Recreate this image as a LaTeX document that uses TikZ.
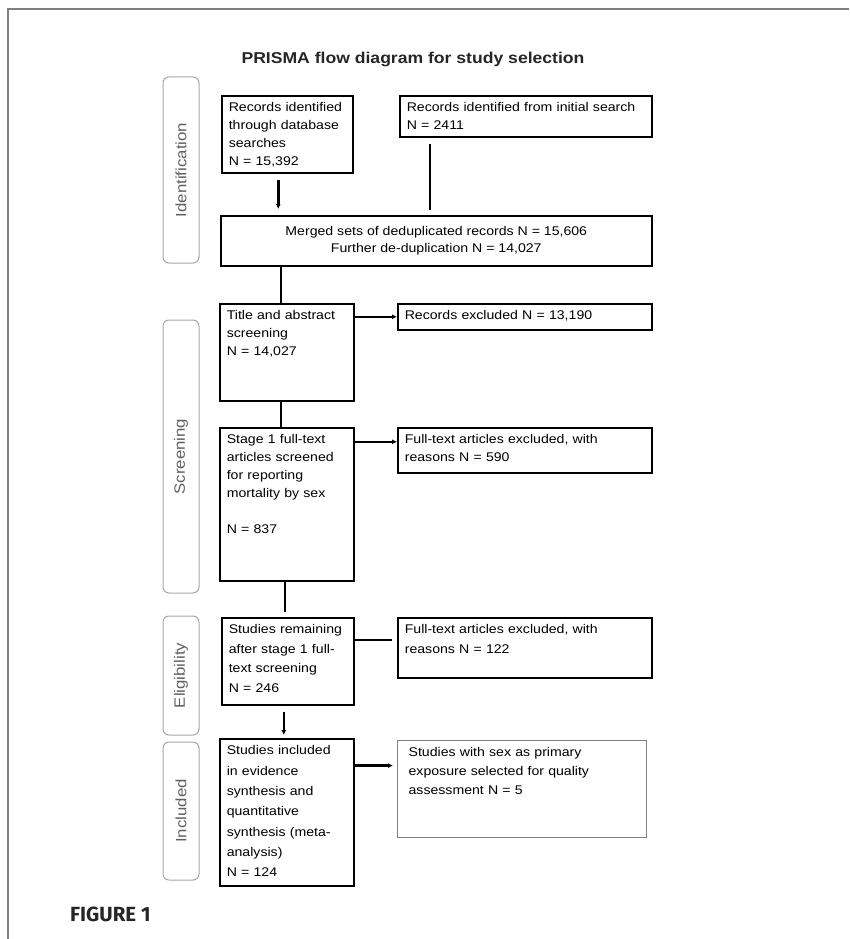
\documentclass[tikz,border=0pt]{standalone}
\usepackage{fontspec}
\setmainfont{Liberation Sans}[FakeStretch=1.12]
\newfontfamily\figfont{Fira Sans}
\usetikzlibrary{arrows.meta}

\begin{document}
\begin{tikzpicture}[x=1pt, y=-1pt,
    >={Latex[length=5pt,width=5pt]},
    txt/.style={font=\fontsize{12.6}{18}\selectfont},
    box/.style={draw, line width=1.6pt, anchor=north west, inner xsep=7pt, inner ysep=4pt, txt},
    lbox/.style={box, align=left, text height=12pt},
    phase/.style={draw=gray!70, line width=1pt, rounded corners=6pt, rotate=90, minimum height=36pt,
      font=\fontsize{15}{18}\selectfont, text=gray!75!black},
    link/.style={line width=2.6pt}]
  \useasboundingbox (0,0) rectangle (849,939);
  % --- page frame ---
  \draw[gray, line width=2pt] (8,939) -- (8,9) -- (849,9);
  \node[font=\bfseries\fontsize{15.7}{19}\selectfont, anchor=base, text=black!85] (title) at (413,64) {PRISMA flow diagram for study selection};

  % --- Identification ---
  \node[phase, minimum width=186pt] (pid) at (181,170) {Identification};
  \node[lbox, text width=117pt, text depth=57pt] (db) at (221,95) {Records identified\\through database\\searches\\N = 15,392};
  \node[lbox, text width=238pt, text depth=21pt] (init) at (399,95) {Records identified from initial search\\N = 2411};
  \node[box, align=center, minimum width=431pt, minimum height=50pt, font=\fontsize{12.6}{17}\selectfont] (merge) at (220,215)
    {Merged sets of deduplicated records N = 15,606\\Further de-duplication N = 14,027};
  \draw[link, ->, shorten <=6pt, shorten >=6pt] ([xshift=-9pt]db.south) -- ([xshift=-9pt]db.south |- merge.north);
  \draw[link, shorten <=6pt, shorten >=5pt] ([xshift=31pt]init.south west) -- ([xshift=31pt]init.south west |- merge.north);

  % --- Screening ---
  \node[phase, minimum width=273pt] (pscr) at (181,456.5) {Screening};
  \node[lbox, text width=120pt, text depth=77pt] (tiab) at (219,303) {Title and abstract\\screening\\N = 14,027};
  \node[lbox, text width=240pt, text depth=6pt] (exc1) at (397,303) {Records excluded N = 13,190};
  \node[lbox, text width=120pt, text depth=133pt] (full) at (219,427) {Stage 1 full-text\\articles screened\\for reporting\\mortality by sex\\[18pt]N = 837};
  \node[lbox, text width=240pt, text depth=25pt] (exc2) at (397,427) {Full-text articles excluded, with\\reasons N = 590};
  \draw[link] ([xshift=-6pt]tiab.north |- merge.south) -- ([xshift=-6pt]tiab.north);
  \draw[link, ->] (tiab.east |- exc1.west) -- (exc1.west);
  \draw[link] ([xshift=-6pt]tiab.south) -- ([xshift=-6pt]full.north);
  \draw[link, ->] ([yshift=2pt]full.east |- exc2.text) -- ([yshift=2pt]exc2.text -| exc2.west);

  % --- Eligibility ---
  \node[phase, minimum width=119pt] (pelig) at (181,675.5) {Eligibility};
  \node[lbox, text width=118pt, text depth=67pt, font=\fontsize{12.6}{19.5}\selectfont] (remain) at (221,617) {Studies remaining\\after stage 1 full-\\text screening\\N = 246};
  \node[lbox, text width=240pt, text depth=40pt, font=\fontsize{12.6}{20}\selectfont] (exc3) at (397,617) {Full-text articles excluded, with\\reasons N = 122};
  \draw[link, shorten >=5pt] ([xshift=-2pt]full.south) -- ([xshift=-2pt]full.south |- remain.north);
  \draw[link, shorten >=5pt] ([yshift=-6pt]remain.east |- exc3.text) -- ([yshift=-6pt]exc3.text -| exc3.west);

  % --- Included ---
  \node[phase, minimum width=138pt] (pinc) at (181,811) {Included};
  \node[lbox, text width=120pt, text depth=127pt, font=\fontsize{12.6}{20.3}\selectfont] (incl) at (219,738) {Studies included\\in evidence\\synthesis and\\quantitative\\synthesis (meta-\\analysis)\\N = 124};
  \node[lbox, draw=gray, line width=1.2pt, inner xsep=11pt, text width=227pt, text depth=77pt, font=\fontsize{12.6}{19}\selectfont] (qual) at (397,740)
    {Studies with sex as primary\\exposure selected for quality\\assessment N = 5};
  \draw[link, ->, shorten <=6pt, shorten >=3pt] ([xshift=-4pt]remain.south) -- ([xshift=-4pt]remain.south |- incl.north);
  \draw[link, ->, shorten >=4pt] ([yshift=-9pt]incl.east |- qual.text) -- ([yshift=-9pt]qual.text -| qual.west);

  \node[font=\figfont\bfseries\fontsize{20.5}{24}\selectfont, anchor=base west, inner sep=0pt, text=black!85] (fig) at (70,921) {FIGURE 1};
\end{tikzpicture}
\end{document}
